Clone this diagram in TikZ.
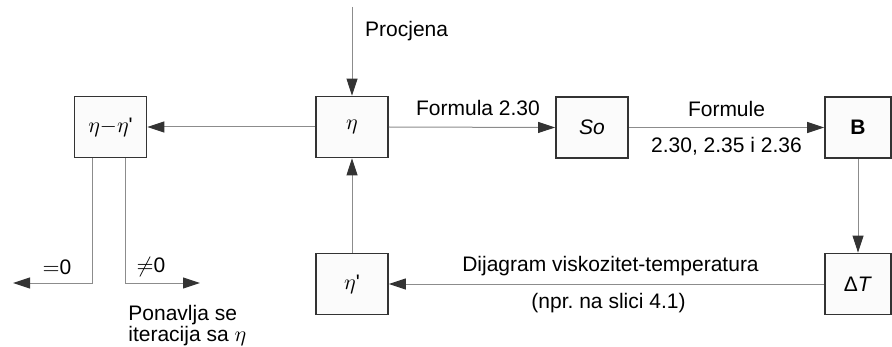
\documentclass[tikz,border=0pt]{standalone}
\usepackage{fontspec}
\setmainfont{Liberation Sans}
\usepackage{amsmath}
\usetikzlibrary{arrows.meta}
\definecolor{linegray}{gray}{0.55}
\definecolor{boxgray}{gray}{0.2}
\begin{document}
\begin{tikzpicture}[x=0.5pt,y=-0.5pt,
  font=\fontsize{10.5}{10.5}\selectfont,
  blok/.style={rectangle,draw=boxgray,line width=0.9pt,fill=gray!3,
    minimum width=36pt,minimum height=30.5pt,inner sep=0pt},
  tok/.style={draw=linegray,line width=0.5pt,
    -{Triangle[length=8.5pt,width=5.5pt,color=boxgray]}}]
\useasboundingbox (0,0) rectangle (892,347);
% blokovi
\node [blok] (dif)  at (110.5,127) {$\eta{-}\eta$\textquotesingle};
\node [blok] (eta)  at (352,127)   {$\eta$};
\node [blok] (so)   at (592,127.5) {\textit{So}};
\node [blok,minimum width=33pt] (b) at (858,127.5) {\textbf{B}};
\node [blok,minimum width=33pt] (dt) at (858,284) {Δ\textit{T}};
\node [blok] (etap) at (352,284)   {$\eta$\textquotesingle};
\coordinate (start) at (352,7);
\coordinate (nula) at (13,283);
\coordinate (nenula) at (200,283);
% veze
\draw [tok] (start) -- node[right=3pt,pos=0.27] {Procjena} (eta.north);
\draw [tok] (eta.west) -- (dif.east);
\draw [tok] (eta.east) -- node[above=2pt,xshift=3pt] {Formula 2.30} (so.west);
\draw [tok] (so.east) -- node[above=2pt] {Formule}
  node[below=1.5pt] {2.30, 2.35 i 2.36} (b.west);
\draw [tok] (b.south) -- (dt.north);
\draw [tok] (dt.west) -- node[above=0.5pt,xshift=2pt] {Dijagram viskozitet-temperatura}
  node[below=1pt,xshift=1pt] {(npr.\ na slici 4.1)} (etap.east);
\draw [tok] (etap.north) -- (eta.south);
\draw [tok] ([xshift=-9.25pt]dif.south) |- (nula);
\draw [tok] ([xshift=7.25pt]dif.south) |- (nenula);
% oznake
\node (jed) at (57,267) {$=$0};
\node (nejed) at (151,267) {$\neq$0};
\node [anchor=north west,align=left,inner sep=0pt] (pon) at (128,305)
  {Ponavlja se\\iteracija sa $\eta$};
\end{tikzpicture}
\end{document}
